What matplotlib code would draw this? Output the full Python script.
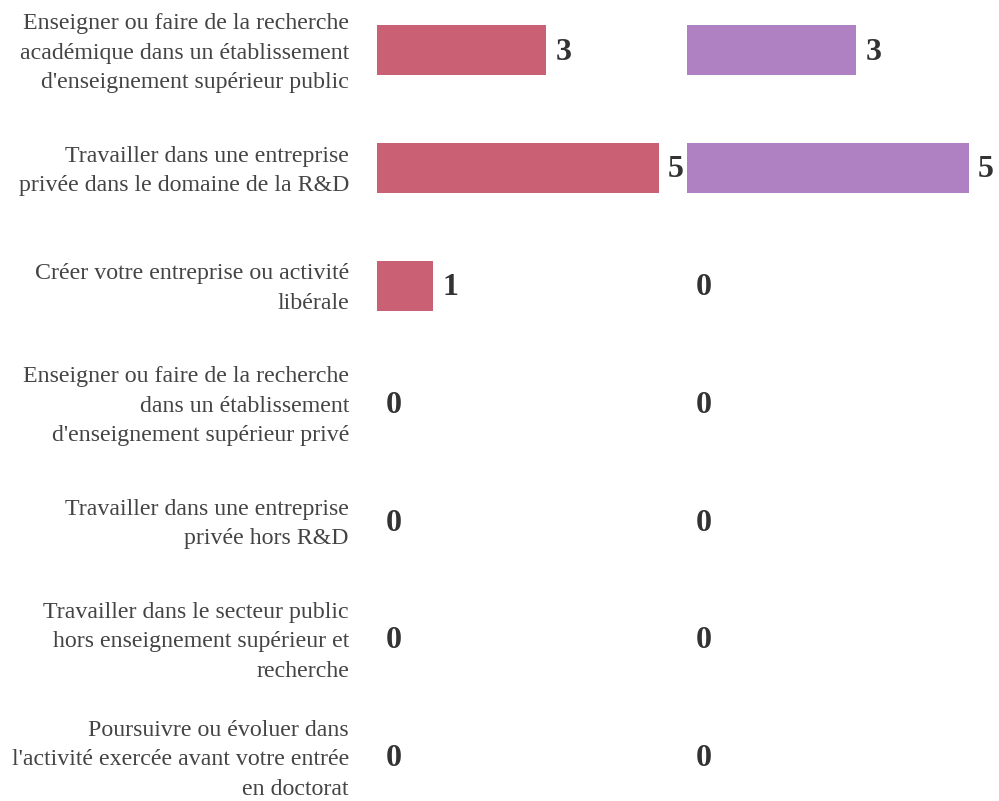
import matplotlib
matplotlib.use("Agg")
import matplotlib.pyplot as plt

plt.rcParams['font.family'] = ['Liberation Serif', 'DejaVu Serif']

categories = [
    "Enseigner ou faire de la recherche\nacadémique dans un établissement\nd'enseignement supérieur public",
    "Travailler dans une entreprise\nprivée dans le domaine de la R&D",
    "Créer votre entreprise ou activité\nlibérale",
    "Enseigner ou faire de la recherche\ndans un établissement\nd'enseignement supérieur privé",
    "Travailler dans une entreprise\nprivée hors R&D",
    "Travailler dans le secteur public\nhors enseignement supérieur et\nrecherche",
    "Poursuivre ou évoluer dans\nl'activité exercée avant votre entrée\nen doctorat",
]
serie_1 = [3, 5, 1, 0, 0, 0, 0]
serie_2 = [3, 5, 0, 0, 0, 0, 0]

colors = ["#C96073", "#AF80C2"]
text_color = "#333333"

W, H = 999, 801
fig = plt.figure(figsize=(W / 100, H / 100), dpi=100)

# row 0 centre at 50px, row pitch ~117.8px
pitch = 117.8
y_top = -50 / pitch
y_bot = (H - 50) / pitch

rows = list(range(len(categories)))
panels = [(377, serie_1), (687, serie_2)]
for k, (x0, vals) in enumerate(panels):
    ax = fig.add_axes([x0 / W, 0, 282 / W, 1])
    ax.barh(rows, vals, height=50 / pitch, color=colors[k])
    ax.set_xlim(0, 5)
    ax.set_ylim(y_bot, y_top)
    ax.axis("off")
    for i, v in enumerate(vals):
        ax.annotate(str(v), (v, i), xytext=(9, -2), textcoords="offset pixels",
                    ha="left", va="center", fontsize=23, fontweight="bold",
                    color=text_color, clip_on=False)
    if k == 0:
        for i, c in enumerate(categories):
            ax.annotate(c, (0, i), xytext=(-28, -3), textcoords="offset pixels",
                        ha="right", va="center", fontsize=17.2, color="#444444",
                        linespacing=1.53, clip_on=False)

fig.savefig("out.png", dpi=100, facecolor="white")
